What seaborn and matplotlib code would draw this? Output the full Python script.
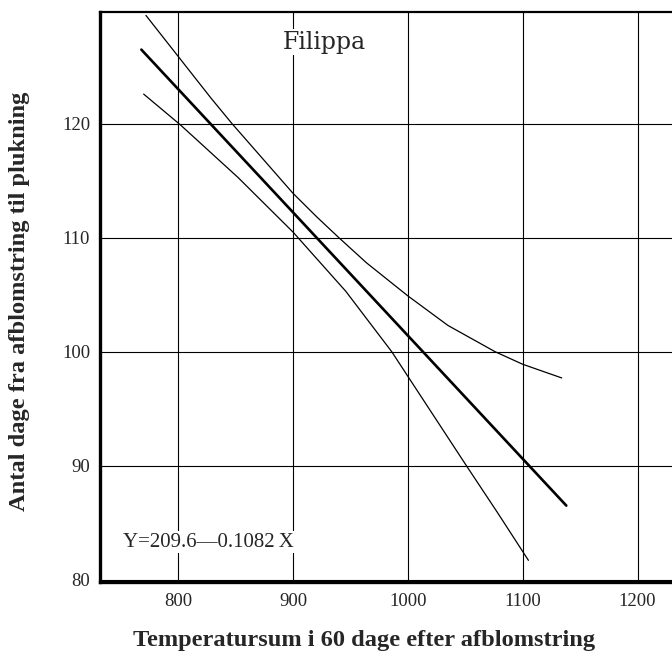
import numpy as np
import pandas as pd
import matplotlib
matplotlib.use('Agg')
import matplotlib.pyplot as plt
import seaborn as sns

sns.set_style('white')
plt.rcParams['font.family'] = ['Liberation Serif', 'DejaVu Serif']

# regression line Y = 209.6 - 0.1082 X (endpoints)
reg_x = [768, 1138]
reg_y = [126.5, 86.5]

# upper confidence curve
upper_x = [772, 829, 847, 900, 921, 940, 964, 1000, 1035, 1076, 1100, 1134]
upper_y = [129.5, 122.2, 120.0, 113.9, 111.8, 110.0, 107.8, 104.9, 102.3, 100.0, 98.9, 97.7]

# lower confidence curve
lower_x = [770, 802, 852, 900, 946, 986, 1051, 1078, 1105]
lower_y = [122.6, 119.9, 115.3, 110.5, 105.3, 100.0, 90.0, 85.9, 81.7]

xticks = [800, 900, 1000, 1100, 1200]
yticks = [80, 90, 100, 110, 120]

W, H = 672, 652
fig = plt.figure(figsize=(W / 100, H / 100), dpi=100)
ax = fig.add_axes([100 / W, 1 - 582 / H, 572 / W, 570 / H])

reg = pd.DataFrame({'x': reg_x, 'y': reg_y})
up = pd.DataFrame({'x': upper_x, 'y': upper_y})
lo = pd.DataFrame({'x': lower_x, 'y': lower_y})

sns.lineplot(data=up, x='x', y='y', ax=ax, color='black', lw=0.9, sort=False)
sns.lineplot(data=lo, x='x', y='y', ax=ax, color='black', lw=0.9, sort=False)
sns.lineplot(data=reg, x='x', y='y', ax=ax, color='black', lw=1.9, sort=False)

ax.set_xlim(732, 1230)
ax.set_ylim(79.8, 129.8)
ax.set_xticks(xticks)
ax.set_yticks(yticks)
ax.grid(True, color='black', lw=0.8)
ax.set_axisbelow(True)
ax.tick_params(length=0, labelsize=13.5)
ax.tick_params(axis='y', pad=7)
ax.tick_params(axis='x', pad=8)
ax.set_xlabel('')
ax.set_ylabel('')

for s in ['left', 'bottom']:
    ax.spines[s].set_linewidth(2.4)
    ax.spines[s].set_color('black')
ax.spines['top'].set_linewidth(1.6)
ax.spines['top'].set_color('black')
ax.spines['right'].set_visible(False)

# axis titles, sized so the x title spans about 464 px as in the scan
xl = fig.text(364 / W, 1 - 646 / H, 'Temperatursum i 60 dage efter afblomstring',
              fontsize=16, fontweight='bold', ha='center', va='baseline')
fig.canvas.draw()
w = xl.get_window_extent().width
size = 16 * 464 / w
xl.set_fontsize(size)
fig.text(20 / W, 1 - 301 / H, 'Antal dage fra afblomstring til plukning',
         fontsize=size, fontweight='bold', rotation=90, ha='center', va='center')

# in-plot texts sit on white, hiding the grid behind them
box = dict(facecolor='white', edgecolor='none', pad=1)
ax.text(0.393, 0.947, 'Filippa', transform=ax.transAxes, fontsize=17,
        family=['DejaVu Serif'], ha='center', va='center', bbox=box)
ax.text(0.040, 0.070, 'Y=209.6\u20140.1082\u2009X', transform=ax.transAxes,
        fontsize=15, ha='left', va='center', bbox=box)

fig.savefig('out.png', dpi=100)
